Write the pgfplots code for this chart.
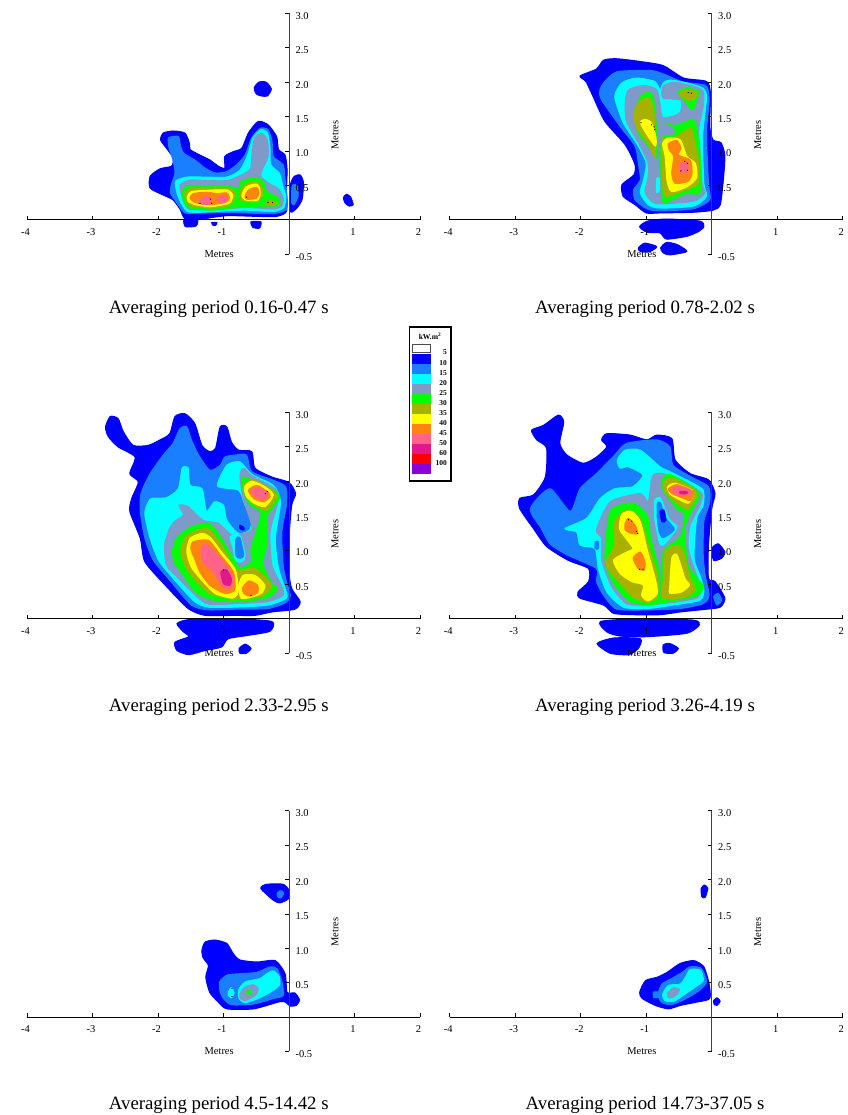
\documentclass[border=0pt]{standalone}
\usepackage{fontspec}
\setmainfont{Liberation Serif}
\usepackage{pgfplots}
\pgfplotsset{compat=1.18}
\definecolor{Lb}{HTML}{0000FF}
\definecolor{Lc}{HTML}{1A7FFF}
\definecolor{Ld}{HTML}{00FFFF}
\definecolor{Le}{HTML}{7F9AC8}
\definecolor{Lf}{HTML}{00FF00}
\definecolor{Lg}{HTML}{A8B000}
\definecolor{Lh}{HTML}{FFFF00}
\definecolor{Li}{HTML}{FF8410}
\definecolor{Lj}{HTML}{FF6488}
\definecolor{Lk}{HTML}{E0188A}
\definecolor{Ll}{HTML}{FF0000}
\definecolor{Lm}{HTML}{8C00D8}
\pgfplotsset{
 lev/.style={fill=#1,draw=#1,line width=1.1bp,line join=round,smooth cycle,tension=0.4,forget plot,no markers},
 a/.style={lev=Lb},
 b/.style={lev=Lc},
 c/.style={lev=Ld},
 d/.style={lev=Le},
 e/.style={lev=Lf},
 f/.style={lev=Lg},
 g/.style={lev=Lh},
 h/.style={lev=Li},
 i/.style={lev=Lj},
 k/.style={lev=Lk},
 dots/.style={only marks,mark=*,mark size=0.35bp,black,forget plot},
 panel/.style={
  scale only axis,width=393bp,height=240.8bp,
  xmin=-4,xmax=2,ymin=-0.5,ymax=3,clip=false,axis on top=true,
  axis x line=middle,axis y line=middle,
  axis line style={-},
  x axis line style={line width=0.9bp,black},
  y axis line style={line width=0.9bp,black!75},
  xtick={-4,-3,-2,-1,1,2},xticklabels={-4,-3,-2,-1,1,2},
  ytick={-0.5,0.5,1,1.5,2,2.5,3},yticklabels={-0.5,0.5,1.0,1.5,2.0,2.5,3.0},
  major tick length=4bp,
  xtick align=inside,ytick align=outside,
  tick style={black,line width=0.6bp},
  xticklabel style={font=\fontsize{10.5}{12}\selectfont,yshift=-5bp,xshift=-1.5bp},
  yticklabel style={font=\fontsize{10.5}{12}\selectfont,anchor=west,xshift=7bp,yshift=-2.5bp},
  xlabel={Metres},ylabel={Metres},
  every axis x label/.style={at={(axis description cs:0.489,0.0)},anchor=center,font=\fontsize{10.5}{12}\selectfont},
  every axis y label/.style={at={(axis description cs:0.784,0.495)},anchor=center,rotate=90,font=\fontsize{10.5}{12}\selectfont},
  every axis title/.style={anchor=center,font=\fontsize{18.9}{22}\selectfont},
 }
}
\begin{document}
\begin{tikzpicture}[x=1bp,y=1bp]
\path[use as bounding box] (0,0) rectangle (848,1115);
%% PANEL 1
\begin{axis}[panel,at={(27bp,860.8bp)},title={Averaging period 0.16-0.47 s},title style={at={(axis description cs:0.488,-0.228)}}]
\addplot[a] coordinates {(-1.92,1.26)(-1.77,1.29)(-1.59,1.26)(-1.52,1.11)(-1.51,1.02)(-1.36,0.94)(-1.21,0.87)(-1.08,0.78)(-0.98,0.75)(-0.98,0.92)(-0.85,0.99)(-0.72,1.04)(-0.62,1.26)(-0.47,1.43)(-0.32,1.38)(-0.19,1.21)(-0.16,1.02)(-0.06,0.94)(-0.03,0.73)(-0.04,0.39)(-0.04,0.12)(-0.19,0.05)(-0.49,0.05)(-0.95,0.06)(-1.36,0.01)(-1.59,0.02)(-1.66,0.15)(-1.77,0.29)(-1.92,0.36)(-2.12,0.46)(-2.12,0.63)(-1.97,0.74)(-1.79,0.78)(-1.77,0.90)(-1.87,1.04)(-1.96,1.16)};
\addplot[a] coordinates {(-0.53,1.92)(-0.46,2.0)(-0.35,2.0)(-0.27,1.9)(-0.33,1.8)(-0.42,1.80)(-0.5,1.83)};
\addplot[a] coordinates {(0.02,0.5)(0.08,0.63)(0.17,0.65)(0.22,0.55)(0.2,0.3)(0.12,0.17)(0.02,0.12)};
\addplot[a] coordinates {(0.83,0.32)(0.88,0.37)(0.94,0.33)(0.98,0.22)(0.92,0.2)(0.86,0.24)};
\addplot[a] coordinates {(-1.6,0)(-1.4,0)(-1.42,-0.09)(-1.58,-0.1)};
\addplot[a] coordinates {(-1.18,-0.04)(-1.1,-0.04)(-1.12,-0.08)(-1.16,-0.08)};
\addplot[a] coordinates {(-0.58,-0.03)(-0.43,-0.03)(-0.45,-0.12)(-0.55,-0.11)};
\addplot[b] coordinates {(0.05,0.5)(0.12,0.5)(0.14,0.35)(0.08,0.22)(0.04,0.25)};
\addplot[b] coordinates {(-1.84,1.19)(-1.69,1.21)(-1.66,1.09)(-1.61,0.97)(-1.44,0.87)(-1.28,0.75)(-1.13,0.68)(-0.95,0.70)(-0.80,0.80)(-0.67,0.94)(-0.57,1.19)(-0.44,1.33)(-0.32,1.31)(-0.26,1.14)(-0.24,0.92)(-0.09,0.80)(-0.06,0.58)(-0.03,0.34)(-0.04,0.15)(-0.24,0.09)(-0.65,0.10)(-0.95,0.11)(-1.36,0.10)(-1.59,0.10)(-1.69,0.22)(-1.81,0.39)(-1.79,0.53)(-1.74,0.68)(-1.77,0.87)(-1.83,1.04)};
\addplot[c] coordinates {(-1.73,0.56)(-1.56,0.62)(-1.26,0.62)(-0.95,0.62)(-0.75,0.72)(-0.64,0.92)(-0.55,1.19)(-0.43,1.31)(-0.33,1.26)(-0.29,1.04)(-0.28,0.80)(-0.15,0.68)(-0.10,0.51)(-0.05,0.34)(-0.08,0.18)(-0.24,0.12)(-0.65,0.14)(-0.95,0.13)(-1.36,0.11)(-1.55,0.12)(-1.64,0.23)(-1.71,0.39)};
\addplot[d] coordinates {(-1.66,0.51)(-1.51,0.58)(-1.26,0.57)(-0.95,0.57)(-0.75,0.64)(-0.59,0.74)(-0.56,1.02)(-0.52,1.20)(-0.42,1.26)(-0.33,1.16)(-0.32,0.92)(-0.40,0.75)(-0.43,0.63)(-0.29,0.52)(-0.16,0.45)(-0.09,0.31)(-0.11,0.20)(-0.24,0.16)(-0.65,0.18)(-0.95,0.16)(-1.36,0.15)(-1.54,0.16)(-1.61,0.27)(-1.65,0.39)};
\addplot[e] coordinates {(-1.62,0.41)(-1.56,0.49)(-1.21,0.48)(-0.90,0.48)(-0.77,0.46)(-0.72,0.56)(-0.54,0.61)(-0.40,0.57)(-0.34,0.41)(-0.19,0.34)(-0.14,0.26)(-0.20,0.20)(-0.39,0.20)(-0.72,0.19)(-0.90,0.17)(-1.18,0.14)(-1.51,0.17)(-1.61,0.27)};
\addplot[f] coordinates {(-1.59,0.38)(-1.51,0.45)(-1.21,0.45)(-0.91,0.45)(-0.82,0.38)(-0.85,0.27)(-0.95,0.20)(-1.18,0.17)(-1.49,0.20)(-1.57,0.28)};
\addplot[f] coordinates {(-0.75,0.39)(-0.67,0.51)(-0.52,0.56)(-0.43,0.51)(-0.40,0.39)(-0.47,0.27)(-0.67,0.27)(-0.74,0.30)};
\addplot[f] coordinates {(-0.34,0.27)(-0.22,0.27)(-0.2,0.22)(-0.34,0.22)};
\addplot[g] coordinates {(-1.55,0.34)(-1.49,0.41)(-1.21,0.43)(-0.93,0.43)(-0.86,0.35)(-0.90,0.25)(-1.00,0.22)(-1.21,0.19)(-1.43,0.22)(-1.54,0.27)};
\addplot[g] coordinates {(-0.72,0.36)(-0.65,0.48)(-0.50,0.52)(-0.45,0.46)(-0.44,0.36)(-0.49,0.28)(-0.67,0.29)};
\addplot[h] coordinates {(-1.51,0.31)(-1.46,0.38)(-1.26,0.40)(-1.10,0.38)(-0.95,0.39)(-0.91,0.31)(-0.98,0.25)(-1.21,0.22)(-1.43,0.25)};
\addplot[h] coordinates {(-0.67,0.35)(-0.61,0.44)(-0.49,0.47)(-0.46,0.39)(-0.50,0.31)(-0.65,0.30)};
\addplot[i] coordinates {(-1.36,0.27)(-1.28,0.34)(-1.18,0.30)(-1.21,0.23)(-1.33,0.23)};
\addplot[i] coordinates {(-1.09,0.31)(-1.01,0.36)(-0.94,0.31)(-1.0,0.25)(-1.08,0.27)};
\addplot[dots] coordinates {(-1.36,0.24)(-1.18,0.24)(-1.2,0.3)(-0.32,0.25)(-0.25,0.25)(-0.65,0.33)};
\end{axis}
%% PANEL 2
\begin{axis}[panel,at={(449.7bp,860.8bp)},title={Averaging period 0.78-2.02 s},title style={at={(axis description cs:0.497,-0.228)}}]
\addplot[a] coordinates {(-2.01,2.09)(-1.76,2.19)(-1.65,2.32)(-1.45,2.34)(-1.09,2.30)(-0.74,2.24)(-0.43,2.06)(-0.08,2.01)(-0.02,1.84)(-0.03,1.36)(0.02,1.16)(0.14,1.12)(0.20,0.94)(0.18,0.61)(0.13,0.22)(0.02,0.14)(-0.28,0.11)(-0.79,0.10)(-1.00,0.10)(-1.17,0.22)(-1.35,0.34)(-1.37,0.51)(-1.19,0.65)(-1.17,0.80)(-1.32,1.09)(-1.63,1.43)(-1.81,1.79)(-1.92,2.01)};
\addplot[a] coordinates {(-1.10,-0.10)(-0.98,-0.02)(-0.69,0.01)(-0.18,-0.02)(-0.12,-0.10)(-0.20,-0.17)(-0.38,-0.24)(-0.69,-0.28)(-0.79,-0.19)(-0.99,-0.18)};
\addplot[a] coordinates {(-1.12,-0.41)(-1.02,-0.34)(-0.84,-0.39)(-0.94,-0.46)(-1.09,-0.46)};
\addplot[a] coordinates {(-0.78,-0.41)(-0.69,-0.33)(-0.53,-0.36)(-0.38,-0.46)(-0.64,-0.51)(-0.74,-0.48)};
\addplot[b] coordinates {(-1.71,1.87)(-1.65,1.99)(-1.45,2.15)(-0.94,2.17)(-0.74,2.12)(-0.43,2.00)(-0.09,1.95)(-0.04,1.74)(-0.08,1.26)(-0.05,0.53)(-0.03,0.29)(-0.28,0.16)(-0.79,0.13)(-0.99,0.16)(-1.17,0.29)(-1.19,0.44)(-1.09,0.58)(-1.12,0.82)(-1.17,1.07)(-1.40,1.36)(-1.68,1.74)};
\addplot[c] coordinates {(-1.48,1.79)(-1.37,1.99)(-1.15,2.06)(-0.87,2.01)(-0.79,1.89)(-0.74,1.99)(-0.64,2.03)(-0.38,1.99)(-0.13,1.91)(-0.08,1.77)(-0.14,1.21)(-0.12,0.53)(-0.08,0.34)(-0.28,0.20)(-0.79,0.17)(-0.97,0.22)(-1.09,0.39)(-1.04,0.58)(-1.00,0.82)(-1.12,1.07)(-1.35,1.41)};
\addplot[d] coordinates {(-1.32,1.70)(-1.27,1.89)(-1.04,1.95)(-0.84,1.89)(-0.78,1.62)(-0.74,1.48)(-0.49,1.55)(-0.47,1.74)(-0.74,1.77)(-0.75,1.93)(-0.59,2.00)(-0.28,1.94)(-0.13,1.87)(-0.13,1.65)(-0.20,1.31)(-0.18,1.02)(-0.15,0.53)(-0.10,0.39)(-0.28,0.27)(-0.79,0.23)(-0.92,0.27)(-1.02,0.41)(-0.97,0.63)(-0.97,0.82)(-1.09,1.07)(-1.30,1.43)};
\addplot[c] coordinates {(-0.84,0.60)(-0.80,0.60)(-0.80,0.43)(-0.84,0.40)};
\addplot[e] coordinates {(-1.18,1.55)(-1.07,1.81)(-0.92,1.84)(-0.87,1.65)(-0.84,1.26)(-0.84,0.90)(-0.92,1.02)(-1.12,1.26)};
\addplot[e] coordinates {(-0.71,1.41)(-0.56,1.37)(-0.28,1.45)(-0.22,1.26)(-0.17,0.82)(-0.17,0.40)(-0.41,0.38)(-0.73,0.25)(-0.77,0.53)(-0.78,1.02)(-0.74,1.20)(-0.56,1.24)(-0.58,1.35)};
\addplot[e] coordinates {(-0.51,1.87)(-0.36,1.91)(-0.20,1.87)(-0.23,1.74)(-0.29,1.60)(-0.43,1.74)};
\addplot[f] coordinates {(-1.19,1.53)(-1.10,1.72)(-0.95,1.77)(-0.88,1.53)(-0.86,0.92)(-0.97,1.12)(-1.14,1.33)};
\addplot[f] coordinates {(-0.76,1.16)(-0.56,1.20)(-0.33,1.33)(-0.28,1.21)(-0.20,0.82)(-0.20,0.53)(-0.38,0.44)(-0.69,0.34)(-0.74,0.44)(-0.76,0.82)};
\addplot[f] coordinates {(-0.49,1.85)(-0.36,1.89)(-0.23,1.85)(-0.25,1.77)(-0.36,1.74)(-0.46,1.79)};
\addplot[g] coordinates {(-1.09,1.41)(-1.02,1.46)(-0.92,1.41)(-0.85,1.19)(-0.86,1.07)(-0.97,1.21)};
\addplot[g] coordinates {(-0.75,1.11)(-0.66,1.19)(-0.48,1.16)(-0.38,0.92)(-0.25,0.82)(-0.23,0.61)(-0.38,0.48)(-0.61,0.41)(-0.68,0.56)(-0.71,0.92)};
\addplot[h] coordinates {(-0.66,1.11)(-0.53,1.15)(-0.47,1.04)(-0.51,0.94)(-0.33,0.87)(-0.30,0.68)(-0.36,0.56)(-0.56,0.53)(-0.61,0.68)(-0.58,0.92)(-0.65,1.02)};
\addplot[i] coordinates {(-0.47,0.80)(-0.41,0.85)(-0.36,0.78)(-0.37,0.70)(-0.47,0.70)};
\addplot[dots] coordinates {(-1.08,1.41)(-0.92,1.38)(-0.87,1.31)(-0.88,1.35)(-0.37,0.82)(-0.41,0.85)(-0.47,0.71)(-0.37,0.72)(-0.36,1.85)(-0.31,1.84)};
\end{axis}
%% PANEL 3
\begin{axis}[panel,at={(27bp,461.8bp)},title={Averaging period 2.33-2.95 s},title style={at={(axis description cs:0.488,-0.223)}}]
\addplot[a] coordinates {(-2.80,2.79)(-2.73,2.94)(-2.61,2.91)(-2.53,2.72)(-2.38,2.52)(-2.15,2.52)(-1.97,2.60)(-1.82,2.69)(-1.74,2.94)(-1.59,2.98)(-1.44,2.84)(-1.33,2.52)(-1.21,2.43)(-1.12,2.48)(-1.05,2.79)(-0.95,2.79)(-0.88,2.57)(-0.77,2.45)(-0.57,2.43)(-0.52,2.19)(-0.26,2.06)(0,1.98)(0.10,1.82)(0.04,1.65)(0,1.17)(0,0.68)(0.04,0.44)(0.17,0.25)(0.09,0.14)(-0.26,0.10)(-0.52,0.05)(-0.82,0.05)(-1.28,0.05)(-1.54,0.15)(-1.89,0.49)(-2.20,0.83)(-2.27,1.17)(-2.43,1.56)(-2.40,1.75)(-2.30,1.99)(-2.43,2.11)(-2.35,2.35)(-2.61,2.50)(-2.76,2.65)};
\addplot[a] coordinates {(-1.71,-0.07)(-1.51,-0.01)(-0.82,0)(-0.26,-0.04)(-0.29,-0.18)(-0.62,-0.24)(-0.93,-0.29)(-1.03,-0.41)(-1.28,-0.46)(-1.53,-0.52)(-1.71,-0.46)(-1.74,-0.34)(-1.53,-0.26)(-1.61,-0.19)};
\addplot[a] coordinates {(-0.76,-0.43)(-0.67,-0.37)(-0.58,-0.43)(-0.65,-0.50)(-0.75,-0.50)};
\addplot[b] coordinates {(-2.26,1.82)(-2.12,2.11)(-1.92,2.38)(-1.77,2.55)(-1.66,2.77)(-1.56,2.79)(-1.49,2.60)(-1.38,2.38)(-1.21,2.16)(-1.05,2.23)(-0.98,2.35)(-0.82,2.38)(-0.65,2.38)(-0.57,2.14)(-0.26,2.02)(-0.05,1.92)(-0.04,1.65)(-0.11,1.26)(-0.09,0.78)(-0.04,0.54)(0.02,0.34)(-0.04,0.24)(-0.32,0.15)(-0.82,0.14)(-1.23,0.13)(-1.49,0.20)(-1.82,0.56)(-2.07,0.85)(-2.20,1.17)(-2.27,1.56)};
\addplot[c] coordinates {(-2.17,1.65)(-2.10,1.75)(-1.87,1.76)(-1.69,1.89)(-1.63,2.19)(-1.54,2.19)(-1.51,1.94)(-1.33,1.89)(-1.26,1.56)(-1.14,1.70)(-1.00,1.65)(-0.95,1.43)(-0.77,1.24)(-0.60,1.29)(-0.57,1.46)(-0.67,1.65)(-0.77,1.87)(-1.09,1.93)(-0.95,2.23)(-0.75,2.28)(-0.57,2.10)(-0.24,1.94)(-0.13,1.70)(-0.21,1.17)(-0.16,0.73)(-0.06,0.44)(-0.04,0.30)(-0.32,0.20)(-0.82,0.17)(-1.23,0.17)(-1.44,0.25)(-1.77,0.59)(-1.99,0.85)(-2.12,1.17)(-2.20,1.51)};
\addplot[d] coordinates {(-1.82,1.32)(-1.74,1.42)(-1.61,1.51)(-1.68,1.65)(-1.54,1.63)(-1.31,1.43)(-1.08,1.39)(-0.88,1.22)(-0.75,1.23)(-0.57,1.29)(-0.60,1.46)(-0.70,1.75)(-0.75,2.08)(-0.69,2.19)(-0.57,2.08)(-0.21,1.89)(-0.17,1.70)(-0.29,1.26)(-0.26,0.78)(-0.11,0.47)(-0.09,0.34)(-0.32,0.25)(-0.82,0.22)(-1.21,0.21)(-1.38,0.30)(-1.69,0.59)(-1.87,0.78)(-1.90,1.07)};
\addplot[c] coordinates {(-0.90,1.19)(-0.75,1.21)(-0.67,0.92)(-0.72,0.83)(-0.82,0.85)(-0.85,1.02)};
\addplot[b] coordinates {(-0.81,1.16)(-0.75,1.18)(-0.69,0.92)(-0.75,0.88)(-0.81,0.92)};
\addplot[a] coordinates {(-0.75,1.36)(-0.69,1.33)(-0.69,1.29)(-0.75,1.31)};
\addplot[e] coordinates {(-1.78,0.97)(-1.72,1.17)(-1.49,1.34)(-1.23,1.39)(-1.08,1.24)(-0.82,0.83)(-0.75,0.73)(-0.57,0.83)(-0.58,1.02)(-0.47,1.36)(-0.43,1.55)(-0.60,1.66)(-0.70,1.87)(-0.71,2.06)(-0.52,2.00)(-0.24,1.87)(-0.14,1.77)(-0.26,1.60)(-0.33,1.51)(-0.34,1.07)(-0.40,0.80)(-0.26,0.51)(-0.17,0.45)(-0.32,0.31)(-0.72,0.25)(-1.03,0.26)(-1.23,0.29)(-1.44,0.40)(-1.61,0.63)(-1.74,0.80)};
\addplot[f] coordinates {(-1.65,0.97)(-1.58,1.19)(-1.36,1.30)(-1.21,1.29)(-1.03,1.07)(-0.82,0.73)(-0.72,0.71)(-0.52,0.73)(-0.37,0.61)(-0.26,0.47)(-0.42,0.33)(-0.72,0.29)(-0.92,0.30)(-1.21,0.37)(-1.41,0.54)(-1.56,0.73)};
\addplot[f] coordinates {(-0.69,1.96)(-0.52,2.01)(-0.26,1.87)(-0.19,1.77)(-0.34,1.58)(-0.52,1.65)(-0.65,1.78)};
\addplot[g] coordinates {(-1.56,0.97)(-1.51,1.17)(-1.33,1.24)(-1.21,1.19)(-1.03,0.97)(-0.82,0.71)(-0.78,0.39)(-0.87,0.30)(-1.13,0.37)(-1.33,0.56)(-1.49,0.75)};
\addplot[g] coordinates {(-0.77,0.47)(-0.70,0.63)(-0.52,0.63)(-0.37,0.49)(-0.42,0.37)(-0.60,0.31)(-0.73,0.30)};
\addplot[g] coordinates {(-0.68,1.91)(-0.57,2.0)(-0.37,1.92)(-0.24,1.80)(-0.37,1.63)(-0.55,1.69)(-0.65,1.78)};
\addplot[h] coordinates {(-1.50,1.02)(-1.46,1.12)(-1.23,1.14)(-1.05,0.93)(-0.85,0.68)(-0.83,0.42)(-0.98,0.37)(-1.21,0.49)(-1.36,0.68)(-1.43,0.85)};
\addplot[h] coordinates {(-0.71,0.45)(-0.61,0.55)(-0.48,0.49)(-0.48,0.38)(-0.60,0.33)(-0.69,0.37)};
\addplot[h] coordinates {(-0.62,1.87)(-0.49,1.94)(-0.32,1.84)(-0.29,1.77)(-0.39,1.70)(-0.54,1.75)};
\addplot[i] coordinates {(-1.34,1.02)(-1.26,1.08)(-1.05,0.88)(-0.87,0.63)(-0.88,0.46)(-1.00,0.46)(-1.18,0.71)(-1.32,0.83)};
\addplot[i] coordinates {(-0.56,1.87)(-0.47,1.90)(-0.34,1.84)(-0.34,1.76)(-0.44,1.75)(-0.54,1.80)};
\addplot[k] coordinates {(-1.04,0.68)(-0.95,0.71)(-0.88,0.58)(-0.90,0.49)(-1.00,0.51)};
\addplot[dots] coordinates {(-0.36,1.82)(-0.33,1.85)(-1.0,0.71)(-0.58,0.34)};
\end{axis}
%% PANEL 4
\begin{axis}[panel,at={(449.7bp,461.8bp)},title={Averaging period 3.26-4.19 s},title style={at={(axis description cs:0.497,-0.223)}}]
\addplot[a] coordinates {(-2.75,2.74)(-2.57,2.81)(-2.34,2.96)(-2.26,2.86)(-2.32,2.55)(-2.21,2.38)(-1.96,2.26)(-1.76,2.35)(-1.60,2.50)(-1.68,2.60)(-1.60,2.69)(-1.25,2.67)(-0.99,2.60)(-0.84,2.67)(-0.61,2.62)(-0.56,2.31)(-0.33,2.11)(-0.05,2.02)(0.05,1.82)(0,1.60)(-0.05,1.07)(-0.05,0.59)(0.05,0.54)(0.20,0.30)(0.13,0.17)(-0.08,0.14)(-0.48,0.10)(-0.79,0.06)(-1.20,0.06)(-1.50,0.08)(-1.65,0.20)(-2.01,0.30)(-2.04,0.39)(-1.88,0.54)(-1.88,0.73)(-2.19,0.85)(-2.52,1.05)(-2.72,1.31)(-2.93,1.60)(-2.93,1.75)(-2.72,1.80)(-2.54,2.06)(-2.52,2.48)(-2.67,2.60)};
\addplot[a] coordinates {(0,1.02)(0.10,1.09)(0.20,0.97)(0.15,0.88)(0.03,0.85)};
\addplot[a] coordinates {(-1.70,-0.04)(-1.09,0)(-0.28,-0.02)(-0.19,-0.09)(-0.38,-0.21)(-1.0,-0.26)(-1.40,-0.25)(-1.60,-0.19)};
\addplot[a] coordinates {(-1.75,-0.36)(-1.50,-0.28)(-1.09,-0.29)(-1.12,-0.43)(-1.27,-0.52)(-1.55,-0.50)};
\addplot[a] coordinates {(-0.74,-0.38)(-0.64,-0.36)(-0.51,-0.43)(-0.59,-0.50)(-0.73,-0.49)};
\addplot[b] coordinates {(0.03,0.32)(0.10,0.37)(0.15,0.27)(0.08,0.20)};
\addplot[b] coordinates {(-2.77,1.60)(-2.47,1.89)(-2.16,1.56)(-2.01,1.89)(-1.76,2.11)(-1.48,2.38)(-1.30,2.55)(-0.84,2.60)(-0.64,2.50)(-0.59,2.23)(-0.31,2.06)(-0.05,1.92)(-0.03,1.70)(-0.12,1.41)(-0.13,0.93)(-0.10,0.63)(-0.04,0.34)(-0.13,0.22)(-0.48,0.15)(-0.99,0.13)(-1.45,0.14)(-1.65,0.34)(-1.76,0.54)(-1.76,0.73)(-2.21,0.93)(-2.47,1.09)(-2.60,1.31)};
\addplot[c] coordinates {(-2.24,1.31)(-1.91,1.46)(-1.70,1.75)(-1.48,1.89)(-1.20,1.92)(-1.05,2.09)(-1.27,2.21)(-1.40,2.19)(-1.44,2.31)(-1.32,2.45)(-1.09,2.45)(-0.79,2.21)(-0.64,2.14)(-0.33,1.99)(-0.13,1.87)(-0.13,1.65)(-0.23,1.46)(-0.27,0.88)(-0.18,0.63)(-0.12,0.42)(-0.18,0.27)(-0.59,0.20)(-0.99,0.15)(-1.35,0.17)(-1.60,0.39)(-1.73,0.73)(-1.78,1.02)(-2.01,1.07)(-2.06,1.26)};
\addplot[b] coordinates {(-1.78,1.12)(-1.73,1.12)(-1.73,1.02)(-1.78,1.02)};
\addplot[d] coordinates {(-1.76,1.29)(-1.55,1.70)(-1.09,1.82)(-0.97,1.70)(-0.92,2.02)(-0.88,2.10)(-0.74,2.11)(-0.38,1.97)(-0.15,1.82)(-0.18,1.65)(-0.33,1.36)(-0.36,1.02)(-0.23,0.63)(-0.15,0.44)(-0.23,0.30)(-0.59,0.24)(-0.99,0.20)(-1.30,0.22)(-1.53,0.47)(-1.68,0.85)(-1.68,1.17)};
\addplot[c] coordinates {(-0.87,1.72)(-0.78,1.75)(-0.66,1.46)(-0.53,1.34)(-0.59,1.24)(-0.74,1.07)(-0.80,1.12)(-0.87,1.46)};
\addplot[b] coordinates {(-0.83,1.68)(-0.78,1.68)(-0.70,1.46)(-0.57,1.30)(-0.74,1.18)(-0.80,1.26)(-0.83,1.46)};
\addplot[a] coordinates {(-0.79,1.56)(-0.73,1.58)(-0.70,1.43)(-0.76,1.41)};
\addplot[e] coordinates {(-1.63,0.88)(-1.60,1.29)(-1.53,1.60)(-1.20,1.68)(-0.99,1.51)(-0.93,1.17)(-0.80,0.68)(-0.80,0.25)(-0.99,0.21)(-1.25,0.25)(-1.48,0.49)(-1.58,0.68)};
\addplot[e] coordinates {(-0.76,0.39)(-0.74,0.97)(-0.48,1.19)(-0.41,1.51)(-0.53,1.60)(-0.74,1.87)(-0.76,2.02)(-0.64,2.10)(-0.33,1.94)(-0.18,1.80)(-0.33,1.53)(-0.41,1.31)(-0.36,0.78)(-0.13,0.47)(-0.23,0.34)(-0.53,0.27)(-0.80,0.24)};
\addplot[f] coordinates {(-1.61,0.83)(-1.48,1.07)(-1.48,1.41)(-1.30,1.58)(-1.09,1.46)(-0.97,1.07)(-0.83,0.63)(-0.83,0.32)(-0.99,0.24)(-1.20,0.32)(-1.42,0.54)(-1.55,0.68)};
\addplot[f] coordinates {(-0.74,0.54)(-0.71,0.97)(-0.53,1.07)(-0.43,0.97)(-0.33,0.59)(-0.25,0.44)(-0.38,0.32)(-0.64,0.29)(-0.76,0.32)};
\addplot[f] coordinates {(-0.74,1.97)(-0.61,2.05)(-0.33,1.92)(-0.23,1.80)(-0.36,1.60)(-0.53,1.68)(-0.69,1.82)};
\addplot[g] coordinates {(-1.50,0.85)(-1.32,0.96)(-1.20,1.02)(-1.31,1.17)(-1.41,1.31)(-1.37,1.52)(-1.22,1.56)(-1.09,1.41)(-0.99,1.02)(-0.87,0.61)(-0.83,0.37)(-0.97,0.26)(-1.07,0.34)(-1.04,0.49)(-1.22,0.54)(-1.40,0.66)};
\addplot[g] coordinates {(-0.64,0.47)(-0.61,0.88)(-0.53,0.93)(-0.41,0.59)(-0.34,0.49)(-0.46,0.39)(-0.64,0.37)};
\addplot[g] coordinates {(-0.67,1.92)(-0.56,1.97)(-0.30,1.87)(-0.28,1.80)(-0.36,1.68)(-0.53,1.75)(-0.64,1.82)};
\addplot[h] coordinates {(-1.32,1.39)(-1.27,1.46)(-1.17,1.36)(-1.13,1.24)(-1.22,1.24)(-1.32,1.29)};
\addplot[h] coordinates {(-1.20,0.88)(-1.09,0.97)(-1.02,0.83)(-1.03,0.71)(-1.12,0.73)};
\addplot[h] coordinates {(-0.66,1.89)(-0.53,1.95)(-0.28,1.85)(-0.33,1.72)(-0.48,1.77)(-0.61,1.82)};
\addplot[i] coordinates {(-0.61,1.88)(-0.51,1.92)(-0.33,1.87)(-0.33,1.82)(-0.46,1.79)(-0.56,1.82)};
\addplot[k] coordinates {(-0.48,1.85)(-0.38,1.85)(-0.38,1.82)(-0.48,1.82)};
\addplot[dots] coordinates {(-1.27,1.44)(-1.22,1.42)(-1.15,1.27)(-1.13,1.24)(-1.10,0.72)(-1.05,0.72)};
\end{axis}
%% PANEL 5
\begin{axis}[panel,at={(27bp,63.5bp)},title={Averaging period 4.5-14.42 s},title style={at={(axis description cs:0.488,-0.223)}}]
\addplot[a] coordinates {(-1.33,0.97)(-1.28,1.09)(-1.13,1.12)(-0.95,1.07)(-0.85,0.92)(-0.75,0.83)(-0.49,0.80)(-0.21,0.82)(-0.06,0.63)(-0.03,0.36)(0.09,0.35)(0.16,0.25)(0.11,0.17)(0.02,0.16)(-0.06,0.22)(-0.16,0.22)(-0.54,0.12)(-0.95,0.12)(-1.08,0.22)(-1.21,0.36)(-1.27,0.58)(-1.23,0.75)(-1.31,0.86)};
\addplot[a] coordinates {(-0.43,1.87)(-0.34,1.93)(-0.09,1.93)(0,1.84)(-0.01,1.72)(-0.14,1.66)(-0.24,1.70)};
\addplot[b] coordinates {(-0.18,1.80)(-0.13,1.84)(-0.08,1.80)(-0.13,1.73)(-0.17,1.75)};
\addplot[b] coordinates {(-1.06,0.51)(-0.95,0.61)(-0.75,0.63)(-0.49,0.65)(-0.29,0.73)(-0.18,0.70)(-0.10,0.48)(-0.09,0.31)(-0.24,0.27)(-0.54,0.19)(-0.88,0.18)(-1.00,0.27)(-1.05,0.36)};
\addplot[c] coordinates {(-0.77,0.39)(-0.67,0.51)(-0.44,0.56)(-0.34,0.63)(-0.24,0.67)(-0.15,0.59)(-0.15,0.46)(-0.29,0.36)(-0.47,0.27)(-0.67,0.21)(-0.76,0.27)};
\addplot[c] coordinates {(-0.93,0.36)(-0.88,0.43)(-0.84,0.35)(-0.88,0.28)(-0.93,0.32)};
\addplot[d] coordinates {(-0.75,0.34)(-0.67,0.44)(-0.54,0.47)(-0.47,0.41)(-0.52,0.31)(-0.67,0.24)(-0.74,0.27)};
\addplot[e] coordinates {(-0.64,0.38)(-0.58,0.38)(-0.58,0.34)(-0.64,0.34)};
\addplot[dots] coordinates {(-0.87,0.42)(-0.87,0.30)};
\end{axis}
%% PANEL 6
\begin{axis}[panel,at={(449.7bp,63.5bp)},title={Averaging period 14.73-37.05 s},title style={at={(axis description cs:0.497,-0.223)}}]
\addplot[a] coordinates {(-1.10,0.36)(-1.01,0.53)(-0.83,0.58)(-0.68,0.65)(-0.48,0.78)(-0.27,0.82)(-0.12,0.73)(-0.04,0.48)(-0.03,0.27)(-0.22,0.22)(-0.48,0.17)(-0.66,0.12)(-0.86,0.17)(-1.06,0.27)};
\addplot[a] coordinates {(-0.16,1.87)(-0.11,1.92)(-0.06,1.87)(-0.10,1.74)(-0.15,1.75)};
\addplot[a] coordinates {(0.03,0.24)(0.08,0.28)(0.13,0.23)(0.08,0.17)(0.04,0.18)};
\addplot[b] coordinates {(-0.82,0.33)(-0.76,0.48)(-0.61,0.56)(-0.45,0.65)(-0.33,0.73)(-0.16,0.71)(-0.08,0.51)(-0.20,0.38)(-0.43,0.25)(-0.63,0.18)(-0.77,0.22)};
\addplot[b] coordinates {(-0.89,0.36)(-0.81,0.36)(-0.81,0.29)(-0.88,0.28)};
\addplot[c] coordinates {(-0.75,0.33)(-0.66,0.46)(-0.48,0.48)(-0.40,0.58)(-0.33,0.69)(-0.17,0.68)(-0.13,0.53)(-0.25,0.44)(-0.40,0.34)(-0.58,0.23)(-0.71,0.24)};
\addplot[d] coordinates {(-0.67,0.35)(-0.58,0.43)(-0.49,0.40)(-0.53,0.33)(-0.61,0.28)(-0.67,0.29)};
\end{axis}
%% LEGEND
\draw[line width=1.1bp,black] (409.3,634) rectangle (451,788);
\node[font=\fontsize{7.6}{9}\selectfont\bfseries] at (430,779) {kW.m\textsuperscript{2}};
\draw[line width=0.4bp,black!70] (412.5,762.3) rectangle (430.5,770.7);
\node[anchor=east,font=\fontsize{7.5}{9}\selectfont\bfseries,inner sep=0pt] at (447,762.7) {5};
\foreach \col/\lab [count=\n from 0] in {Lb/10,Lc/15,Ld/20,Le/25,Lf/30,Lg/35,Lh/40,Li/45,Lj/50,Lk/60,Ll/100,Lm/{}}{
 \fill[\col] (412.3,{761-10*\n}) rectangle (430.7,{751.2-10*\n});
 \node[anchor=east,font=\fontsize{7.5}{9}\selectfont\bfseries,inner sep=0pt] at (447,{752-10*\n}) {\lab};
}
\end{tikzpicture}
\end{document}
